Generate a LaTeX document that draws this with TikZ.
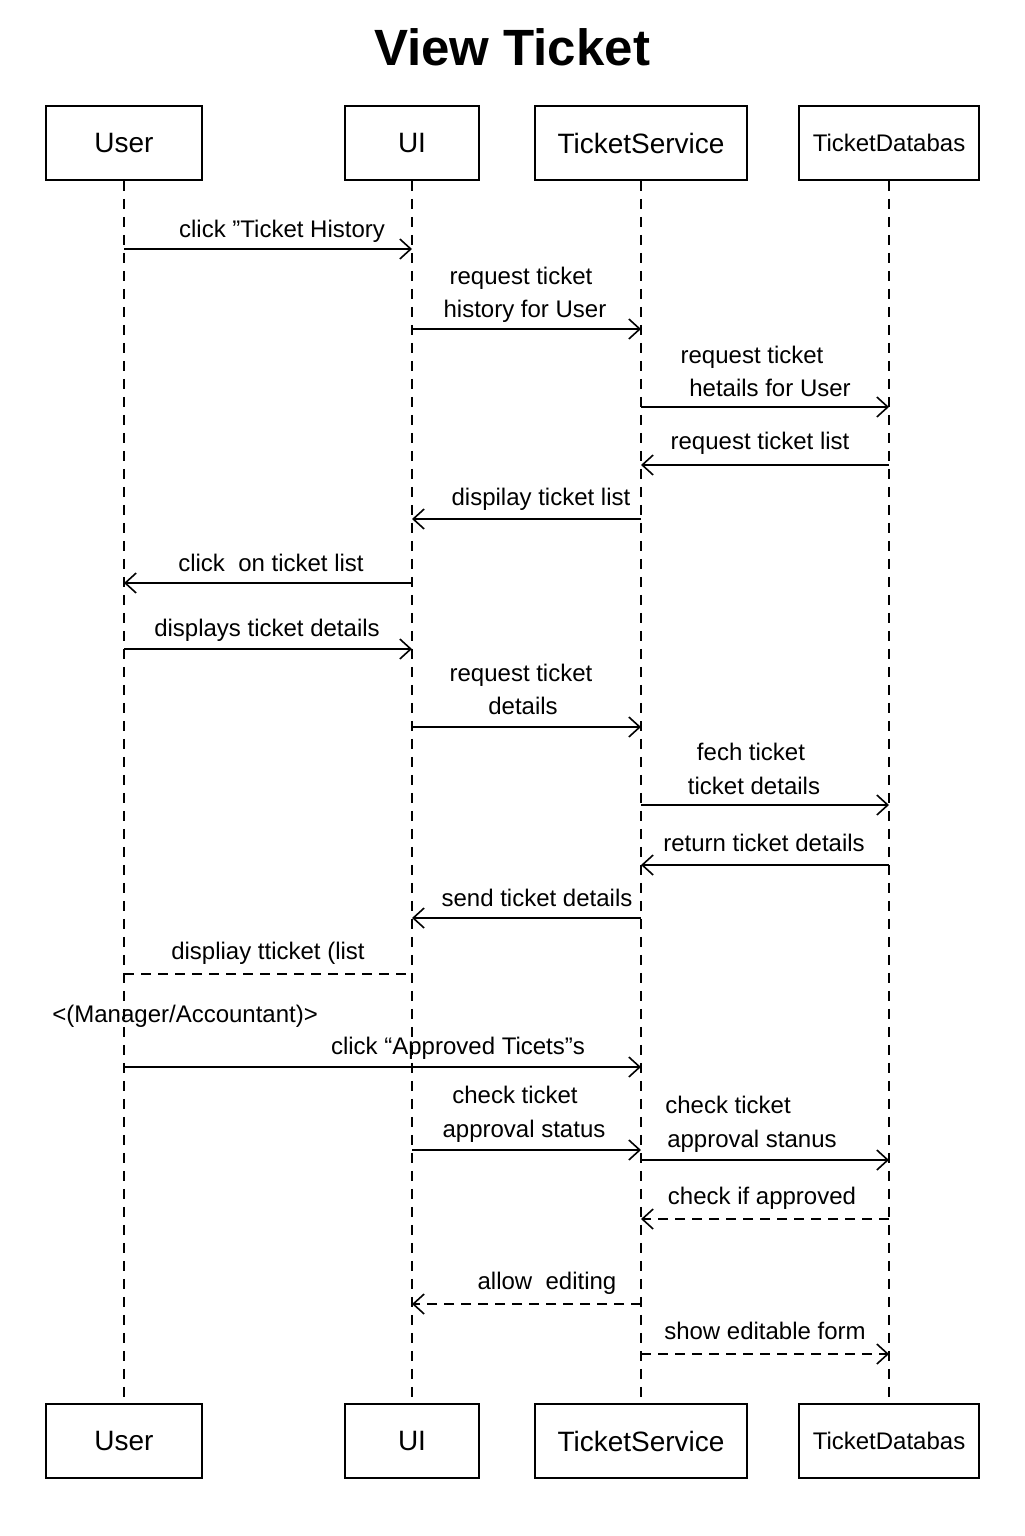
\documentclass[tikz,border=0pt]{standalone}
\usepackage{fontspec}
\setmainfont{Liberation Sans}
\usetikzlibrary{arrows.meta}
\begin{document}
\begin{tikzpicture}[x=0.5pt,y=-0.5pt,
 actor/.style={draw,line width=0.8pt,minimum height=37pt,inner sep=0pt,font=\fontsize{14}{16}\selectfont},
 life/.style={line width=1pt,dash pattern=on 5pt off 4pt},
 msg/.style={line width=0.8pt,-{Straight Barb[length=5.5pt,width=10pt,line width=0.8pt]}},
 rmsg/.style={msg,dash pattern=on 5pt off 3.5pt},
 plain/.style={line width=0.8pt,dash pattern=on 5pt off 3.5pt},
 lbl/.style={anchor=base,inner sep=0pt,font=\fontsize{12}{14}\selectfont}]
\useasboundingbox (0,0) rectangle (1024,1536);
\node[font=\fontsize{25.5}{28}\selectfont\bfseries] (title) at (512,47) {View Ticket};
% actors top
\node[actor,minimum width=78pt] (userT) at (124,143) {User};
\node[actor,minimum width=67pt] (uiT) at (412,143) {UI};
\node[actor,minimum width=106pt] (tsT) at (641,143) {TicketService};
\node[actor,minimum width=90pt,font=\fontsize{12}{14}\selectfont] (dbT) at (889,143) {TicketDatabas};
% actors bottom
\node[actor,minimum width=78pt] (userB) at (124,1441) {User};
\node[actor,minimum width=67pt] (uiB) at (412,1441) {UI};
\node[actor,minimum width=106pt] (tsB) at (641,1441) {TicketService};
\node[actor,minimum width=90pt,font=\fontsize{12}{14}\selectfont] (dbB) at (889,1441) {TicketDatabas};
% lifelines
\draw[life] (userT.south) -- (userB.north);
\draw[life] (uiT.south) -- (uiB.north);
\draw[life] (tsT.south) -- (tsB.north);
\draw[life] (dbT.south) -- (dbB.north);
% messages
\draw[msg] (userT |- 0,249) -- (uiT |- 0,249);
\node[lbl] (l1) at (282,237) {click ”Ticket History};
\draw[msg] (uiT |- 0,329) -- (tsT |- 0,329);
\node[lbl] (l2a) at (521,284) {request ticket};
\node[lbl] (l2b) at (525,317) {history for User};
\draw[msg] (tsT |- 0,407) -- (dbT |- 0,407);
\node[lbl] (l3a) at (752,363) {request ticket};
\node[lbl] (l3b) at (770,396) {hetails for User};
\draw[msg] (dbT |- 0,465) -- (tsT |- 0,465);
\node[lbl] (l4) at (760,449) {request ticket list};
\draw[msg] (tsT |- 0,519) -- (uiT |- 0,519);
\node[lbl] (l5) at (541,505) {dispilay ticket list};
\draw[msg] (uiT |- 0,583) -- (userT |- 0,583);
\node[lbl] (l6) at (271,571) {click\ \ on ticket list};
\draw[msg] (userT |- 0,649) -- (uiT |- 0,649);
\node[lbl] (l7) at (267,636) {displays ticket details};
\draw[msg] (uiT |- 0,727) -- (tsT |- 0,727);
\node[lbl] (l8a) at (521,681) {request ticket};
\node[lbl] (l8b) at (523,714) {details};
\draw[msg] (tsT |- 0,805) -- (dbT |- 0,805);
\node[lbl] (l9a) at (751,760) {fech ticket};
\node[lbl] (l9b) at (754,794) {ticket details};
\draw[msg] (dbT |- 0,865) -- (tsT |- 0,865);
\node[lbl] (l10) at (764,851) {return ticket details};
\draw[msg] (tsT |- 0,918) -- (uiT |- 0,918);
\node[lbl] (l11) at (537,906) {send ticket details};
\draw[plain] (userT |- 0,974) -- (uiT |- 0,974);
\node[lbl] (l12) at (268,959) {displiay tticket (list};
\node[lbl,anchor=base west] (guard) at (52,1022) {<(Manager/Accountant)>};
\draw[msg] (userT |- 0,1067) -- (tsT |- 0,1067);
\node[lbl] (l14) at (458,1054) {click “Approved Ticets”s};
\draw[msg] (uiT |- 0,1150) -- (tsT |- 0,1150);
\node[lbl] (l15a) at (515,1103) {check ticket};
\node[lbl] (l15b) at (524,1137) {approval status};
\draw[msg] (tsT |- 0,1160) -- (dbT |- 0,1160);
\node[lbl] (l16a) at (728,1113) {check ticket};
\node[lbl] (l16b) at (752,1147) {approval stanus};
\draw[rmsg] (dbT |- 0,1219) -- (tsT |- 0,1219);
\node[lbl] (l17) at (762,1204) {check if approved};
\draw[rmsg] (tsT |- 0,1304) -- (uiT |- 0,1304);
\node[lbl] (l18) at (547,1289) {allow\ \ editing};
\draw[rmsg] (tsT |- 0,1354) -- (dbT |- 0,1354);
\node[lbl] (l19) at (765,1339) {show editable form};
\end{tikzpicture}
\end{document}
